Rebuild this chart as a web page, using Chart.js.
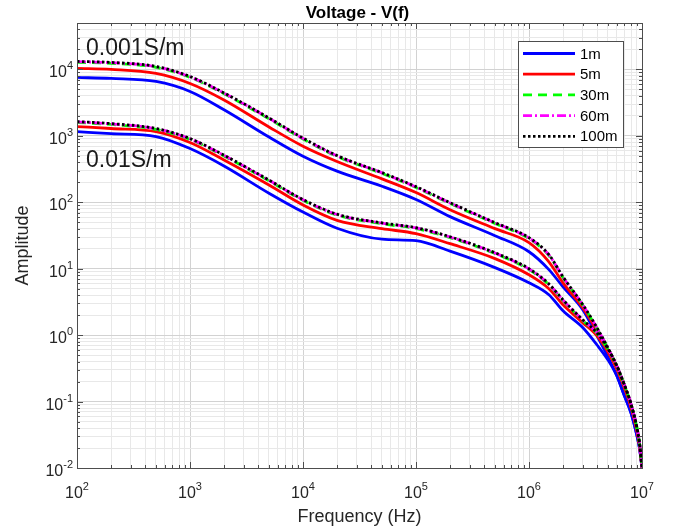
<!DOCTYPE html>
<html>
<head>
<meta charset="utf-8">
<script src="https://cdn.jsdelivr.net/npm/chart.js@4.4.1/dist/chart.umd.min.js"></script>
<style>
  html, body { margin: 0; padding: 0; background: #fff; }
  #wrap { width: 673px; height: 531px; }
</style>
</head>
<body>
<div id="wrap"><canvas id="chart" width="673" height="531"></canvas></div>
<script>
// frequency samples (Hz)
const freq = [1e2, 2e2, 5e2, 1e3, 2e3, 5e3, 1e4, 2e4, 5e4, 1e5, 2e5, 5e5,
              1e6, 1.5e6, 2e6, 3e6, 4e6, 5e6, 6e6, 7e6, 8e6, 9e6, 9.5e6, 1e7];

// sigma = 0.001 S/m
const hi1m   = [7570, 7310, 6590, 4660, 2470, 960, 493, 294, 174, 110, 60.8, 31.4,
                18.0, 9.7, 5.33, 2.40, 0.973, 0.469, 0.243, 0.121, 0.0671, 0.0313, 0.020, 0.0100];
const hi5m   = [10350, 10000, 8710, 6150, 3470, 1360, 697, 410, 225, 140, 77.4, 40.1,
                24.7, 12.7, 6.12, 2.57, 1.16, 0.578, 0.309, 0.160, 0.0826, 0.0372, 0.022, 0.0101];
const hi30m  = [12800, 12380, 10760, 7600, 4300, 1800, 897, 490, 272, 167, 95.8, 47.9,
                28.4, 15.8, 7.35, 2.80, 1.26, 0.630, 0.336, 0.174, 0.0900, 0.0405, 0.0238, 0.0102];
const hi60m  = [13070, 12630, 10980, 7750, 4390, 1840, 916, 500, 277, 170, 97.8, 48.9,
                29.0, 16.1, 7.48, 2.84, 1.28, 0.638, 0.340, 0.176, 0.0910, 0.0410, 0.024, 0.0102];
const hi100m = [13200, 12760, 11090, 7830, 4430, 1860, 925, 505, 280, 172, 98.8, 49.4,
                29.3, 16.3, 7.55, 2.86, 1.29, 0.643, 0.343, 0.177, 0.0916, 0.0412, 0.024, 0.0102];

// sigma = 0.01 S/m
const lo1m   = [1160, 1080, 977, 644, 352, 137, 71.3, 40.6, 27.8, 26.4, 18.4, 10.4,
                6.15, 4.06, 2.32, 1.29, 0.711, 0.423, 0.243, 0.121, 0.0671, 0.0313, 0.020, 0.0100];
const lo5m   = [1380, 1290, 1160, 794, 433, 182, 91.2, 53.5, 40.1, 33.7, 23.8, 14.2,
                8.1, 5.0, 2.86, 1.53, 0.973, 0.558, 0.309, 0.160, 0.0826, 0.0372, 0.022, 0.0101];
const lo30m  = [1590, 1485, 1250, 885, 497, 210, 107, 64.2, 47.4, 40.3, 29.4, 16.9,
                9.7, 5.75, 3.32, 1.65, 1.06, 0.608, 0.336, 0.174, 0.0900, 0.0405, 0.0238, 0.0102];
const lo60m  = [1625, 1515, 1280, 903, 507, 214, 109, 65.5, 48.4, 41.1, 30.0, 17.2,
                9.9, 5.85, 3.37, 1.68, 1.07, 0.616, 0.340, 0.176, 0.0910, 0.0410, 0.024, 0.0102];
const lo100m = [1640, 1530, 1290, 912, 512, 216, 110, 66.2, 48.9, 41.5, 30.3, 17.4,
                10.0, 5.9, 3.40, 1.69, 1.08, 0.621, 0.343, 0.177, 0.0916, 0.0412, 0.024, 0.0102];

const seriesNames = ["1m", "5m", "30m", "60m", "100m"];
const hiSeries = [hi1m, hi5m, hi30m, hi60m, hi100m];
const loSeries = [lo1m, lo5m, lo30m, lo60m, lo100m];

const xDecades = [2, 3, 4, 5, 6, 7];
const yDecades = [-2, -1, 0, 1, 2, 3, 4];

const styles = [
    { color: "#0000ff", dash: [] },
    { color: "#ff0000", dash: [] },
    { color: "#00ff00", dash: [9, 6] },
    { color: "#ff00ff", dash: [9, 3, 2, 3] },
    { color: "#000000", dash: [2.5, 2.5] }
];

const FONT = "'Liberation Sans', Arial, Helvetica, sans-serif";

function toPoints(ys) {
    return ys.map((y, i) => ({ x: freq[i], y: y }));
}

const datasets = [];
[hiSeries, loSeries].forEach(group => {
    group.forEach((ys, k) => {
        datasets.push({
            label: seriesNames[k],
            data: toPoints(ys),
            borderColor: styles[k].color,
            borderDash: styles[k].dash,
            borderWidth: 2.8,
            borderCapStyle: "butt",
            pointRadius: 0,
            cubicInterpolationMode: "monotone",
            fill: false,
            order: seriesNames.length - k
        });
    });
});

// 1..9 x 10^e tick values between two decades
function logTicks(e0, e1, maxVal) {
    const out = [];
    for (let e = e0; e <= e1; e++) {
        for (let m = 1; m <= 9; m++) {
            const v = m * Math.pow(10, e);
            if (v <= maxVal * 1.0001) out.push(v);
            if (e === e1) break;
        }
    }
    return out;
}
function isDecade(v) {
    const l = Math.log10(v);
    return Math.abs(l - Math.round(l)) < 1e-9;
}
function gridColor(c) {
    if (!c.tick) return "#e6e6e6";
    return isDecade(c.tick.value) ? "#d2d2d2" : "#e8e8e8";
}

function drawPower(ctx, exp, x, y, align, baseSize, supSize) {
    const base = "10", sup = String(exp);
    ctx.font = baseSize + "px " + FONT;
    const wb = ctx.measureText(base).width;
    ctx.font = supSize + "px " + FONT;
    const ws = ctx.measureText(sup).width;
    const left = align === "right" ? x - wb - ws : x - (wb + ws) / 2;
    ctx.textAlign = "left";
    ctx.textBaseline = "alphabetic";
    ctx.font = baseSize + "px " + FONT;
    ctx.fillText(base, left, y);
    ctx.font = supSize + "px " + FONT;
    ctx.fillText(sup, left + wb, y - 8);
}

const decor = {
    id: "decor",
    afterDraw(chart) {
        const ctx = chart.ctx;
        const a = chart.chartArea;
        const xs = chart.scales.x, ys = chart.scales.y;
        ctx.save();

        // inner tick marks on all four sides
        ctx.strokeStyle = "#4d4d4d";
        ctx.lineWidth = 1;
        ctx.beginPath();
        xs.ticks.forEach(t => {
            const px = Math.round(xs.getPixelForValue(t.value)) + 0.5;
            const len = isDecade(t.value) ? 6 : 3;
            ctx.moveTo(px, a.bottom); ctx.lineTo(px, a.bottom - len);
            ctx.moveTo(px, a.top); ctx.lineTo(px, a.top + len);
        });
        ys.ticks.forEach(t => {
            const py = Math.round(ys.getPixelForValue(t.value)) + 0.5;
            const len = isDecade(t.value) ? 6 : 3;
            ctx.moveTo(a.left, py); ctx.lineTo(a.left + len, py);
            ctx.moveTo(a.right, py); ctx.lineTo(a.right - len, py);
        });
        ctx.stroke();

        // axes box
        ctx.strokeStyle = "#4d4d4d";
        ctx.strokeRect(Math.round(a.left) + 0.5, Math.round(a.top) + 0.5,
                       Math.round(a.right - a.left), Math.round(a.bottom - a.top));

        // tick labels
        ctx.fillStyle = "#262626";
        xDecades.forEach(e => {
            drawPower(ctx, e, xs.getPixelForValue(Math.pow(10, e)), a.bottom + 30, "center", 16, 11);
        });
        yDecades.forEach(e => {
            drawPower(ctx, e, a.left - 4, ys.getPixelForValue(Math.pow(10, e)) + 8, "right", 16, 11);
        });

        // title and axis titles
        ctx.fillStyle = "#000";
        ctx.textAlign = "center";
        ctx.font = "bold 17px " + FONT;
        ctx.fillText("Voltage - V(f)", (a.left + a.right) / 2 - 2, 18);
        ctx.fillStyle = "#262626";
        ctx.font = "18px " + FONT;
        ctx.fillText("Frequency (Hz)", (a.left + a.right) / 2, 522);
        ctx.save();
        ctx.translate(28, (a.top + a.bottom) / 2);
        ctx.rotate(-Math.PI / 2);
        ctx.fillText("Amplitude", 0, 0);
        ctx.restore();

        // conductivity labels
        ctx.fillStyle = "#1a1a1a";
        ctx.textAlign = "left";
        ctx.font = "23px " + FONT;
        ctx.fillText("0.001S/m", a.left + 9, 55);
        ctx.fillText("0.01S/m", a.left + 9, 167);

        // legend
        const lx = 518, ly = 41, lw = 105, lh = 106;
        ctx.fillStyle = "#fff";
        ctx.fillRect(lx, ly, lw, lh);
        ctx.strokeStyle = "#4d4d4d";
        ctx.lineWidth = 1;
        ctx.strokeRect(lx + 0.5, ly + 0.5, lw, lh);
        ctx.font = "15px " + FONT;
        ctx.textBaseline = "middle";
        seriesNames.forEach((name, k) => {
            const y = ly + 12.5 + k * 20.7;
            ctx.beginPath();
            ctx.setLineDash(styles[k].dash);
            ctx.strokeStyle = styles[k].color;
            ctx.lineWidth = 2.8;
            ctx.moveTo(lx + 5, y);
            ctx.lineTo(lx + 57, y);
            ctx.stroke();
            ctx.setLineDash([]);
            ctx.fillStyle = "#000";
            ctx.fillText(name, lx + 62, y + 1);
        });
        ctx.restore();
    }
};

new Chart(document.getElementById("chart").getContext("2d"), {
    type: "line",
    data: { datasets: datasets },
    options: {
        responsive: false,
        animation: false,
        layout: { padding: { left: 77, top: 23, right: 31, bottom: 63 } },
        plugins: { legend: { display: false }, tooltip: { enabled: false }, title: { display: false } },
        scales: {
            x: {
                type: "logarithmic",
                min: 1e2, max: 1e7,
                afterBuildTicks: s => { s.ticks = logTicks(2, 7, 1e7).map(v => ({ value: v })); },
                ticks: { display: false },
                border: { display: false },
                grid: { color: gridColor, drawTicks: false }
            },
            y: {
                type: "logarithmic",
                min: 1e-2, max: 5e4,
                afterBuildTicks: s => { s.ticks = logTicks(-2, 4, 5e4).concat([2e4, 3e4, 4e4, 5e4]).map(v => ({ value: v })); },
                ticks: { display: false },
                border: { display: false },
                grid: { color: gridColor, drawTicks: false }
            }
        }
    },
    plugins: [decor]
});
</script>
</body>
</html>
